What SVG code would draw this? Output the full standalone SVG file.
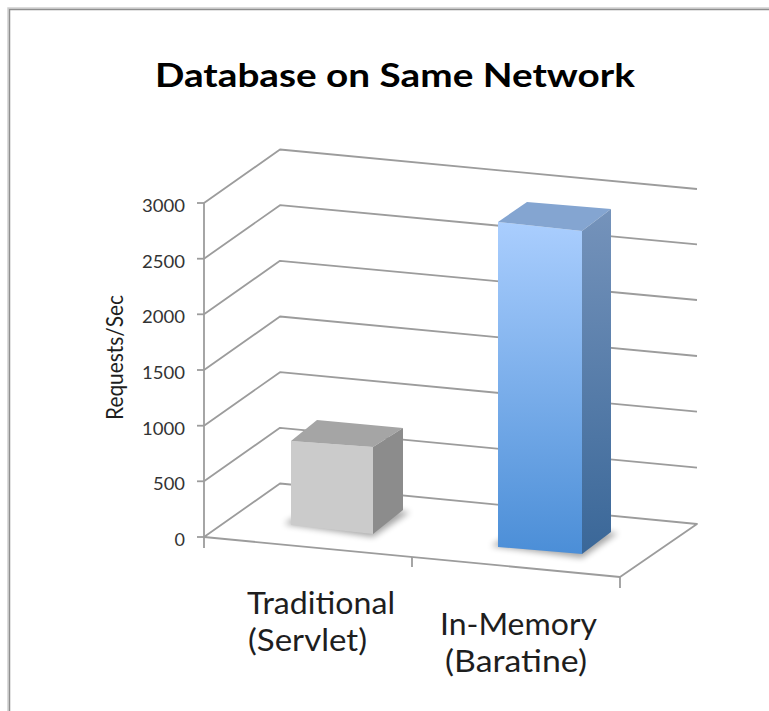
<svg xmlns="http://www.w3.org/2000/svg" width="769" height="711" viewBox="0 0 769 711">
  <style>
    .grid { fill: none; stroke: #9c9c9c; stroke-width: 1.8; stroke-linejoin: round; }
    .ylab { font-family: Lato, "Liberation Sans", sans-serif; font-size: 18px; fill: #333; text-anchor: end; }
    .cat { font-family: Lato, "Liberation Sans", sans-serif; font-size: 30px; fill: #1e1e1e; }
    .title { font-family: Lato, "Liberation Sans", sans-serif; font-size: 33px; font-weight: bold; fill: #000; }
  </style>
  <defs>
    <linearGradient id="blueFront" x1="0" y1="0" x2="0" y2="1">
      <stop offset="0" stop-color="#aacefe"/>
      <stop offset="1" stop-color="#4b8ed7"/>
    </linearGradient>
    <linearGradient id="blueSide" x1="0" y1="0" x2="0" y2="1">
      <stop offset="0" stop-color="#7593bb"/>
      <stop offset="1" stop-color="#3a6798"/>
    </linearGradient>
    <filter id="shadow" x="-20%" y="-50%" width="140%" height="200%">
      <feGaussianBlur stdDeviation="3"/>
    </filter>
  </defs>
  <rect x="0" y="0" width="769" height="711" fill="#fff"/>
  <!-- chart border -->
  <path d="M8,711 V8 H769" fill="none" stroke="#d0d0d0" stroke-width="1.5"/>
  <path d="M9.5,711 V9.5 H769" fill="none" stroke="#8f8f8f" stroke-width="1.5"/>

  <text class="title" x="155" y="87" textLength="480" lengthAdjust="spacingAndGlyphs">Database on Same Network</text>

  <g id="connectors">
    <!-- gridlines: left wall + back wall -->
    <polyline class="grid" points="204,481.3 280,427.8 697,467.7"/>
    <polyline class="grid" points="204,425.7 280,372.2 697,411.7"/>
    <polyline class="grid" points="204,370 280,316.5 697,356"/>
    <polyline class="grid" points="204,314.3 280,260.8 697,300"/>
    <polyline class="grid" points="204,258.7 280,205.2 697,244.3"/>
    <polyline class="grid" points="204,203 280,149.5 697,189"/>
    <!-- floor -->
    <polygon class="grid" points="204,537 280,483.5 697,524 620,577"/>
    <!-- value axis -->
    <line class="grid" x1="204" y1="203" x2="204" y2="548"/>
    <line class="grid" x1="197" y1="203" x2="204" y2="203"/>
    <line class="grid" x1="197" y1="258.7" x2="204" y2="258.7"/>
    <line class="grid" x1="197" y1="314.3" x2="204" y2="314.3"/>
    <line class="grid" x1="197" y1="370" x2="204" y2="370"/>
    <line class="grid" x1="197" y1="425.7" x2="204" y2="425.7"/>
    <line class="grid" x1="197" y1="481.3" x2="204" y2="481.3"/>
    <line class="grid" x1="197" y1="537" x2="204" y2="537"/>
    <!-- category ticks -->
    <line class="grid" x1="412" y1="557" x2="412" y2="567"/>
    <line class="grid" x1="620" y1="577" x2="620" y2="588"/>
  </g>

  <g id="y-labels">
    <text class="ylab" x="185" y="212" textLength="43" lengthAdjust="spacingAndGlyphs">3000</text>
    <text class="ylab" x="185" y="267.7" textLength="43" lengthAdjust="spacingAndGlyphs">2500</text>
    <text class="ylab" x="185" y="323.3" textLength="43" lengthAdjust="spacingAndGlyphs">2000</text>
    <text class="ylab" x="185" y="379" textLength="43" lengthAdjust="spacingAndGlyphs">1500</text>
    <text class="ylab" x="185" y="434.7" textLength="43" lengthAdjust="spacingAndGlyphs">1000</text>
    <text class="ylab" x="185" y="490.3" textLength="32" lengthAdjust="spacingAndGlyphs">500</text>
    <text class="ylab" x="185" y="546">0</text>
    <text x="0" y="0" transform="translate(123,420) rotate(-90)" font-family="Lato, 'Liberation Sans', sans-serif" font-size="23" fill="#1e1e1e" textLength="125" lengthAdjust="spacingAndGlyphs">Requests/Sec</text>
  </g>

  <g id="bar-traditional">
    <polygon points="284,524 373,537 410,512 320,502" fill="#000" opacity="0.35" filter="url(#shadow)"/>
    <polygon points="291,441 373,447 373,534 291,525" fill="#cbcbcb"/>
    <polygon points="291,441 317,420 403,428 373,447" fill="#a5a5a5"/>
    <polygon points="373,447 403,428 403,510 373,534" fill="#8c8c8c"/>
  </g>

  <g id="bar-inmemory">
    <polygon points="491,546 582,558 618,533 527,524" fill="#000" opacity="0.35" filter="url(#shadow)"/>
    <polygon points="498,222 582,231 582,554 498,547" fill="url(#blueFront)"/>
    <polygon points="498,222 527,202 611,209 582,231" fill="#84a5d1"/>
    <polygon points="582,231 611,209 611,532 582,554" fill="url(#blueSide)"/>
  </g>

  <g id="category-labels">
    <text class="cat" x="247" y="614" textLength="148" lengthAdjust="spacingAndGlyphs">Traditional</text>
    <text class="cat" x="248" y="651" textLength="119" lengthAdjust="spacingAndGlyphs">(Servlet)</text>
    <text class="cat" x="440" y="635" textLength="157" lengthAdjust="spacingAndGlyphs">In-Memory</text>
    <text class="cat" x="445" y="672" textLength="142" lengthAdjust="spacingAndGlyphs">(Baratine)</text>
  </g>
</svg>
